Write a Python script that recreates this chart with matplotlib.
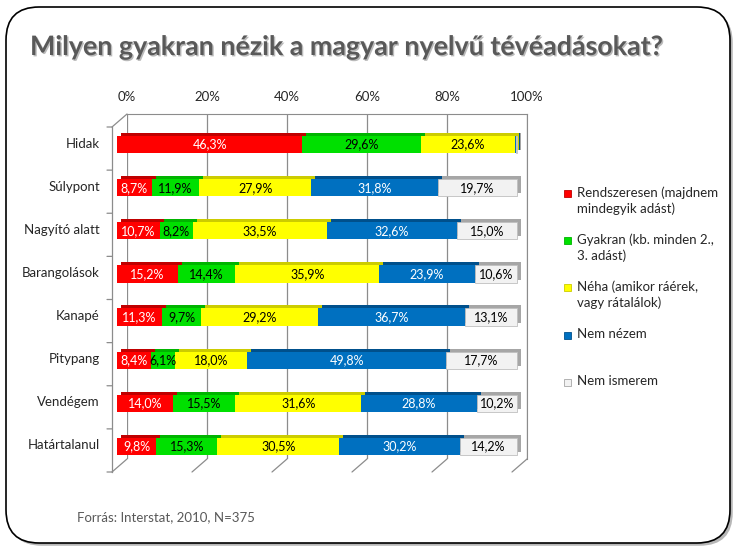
import matplotlib
matplotlib.use("Agg")
import matplotlib.pyplot as plt
import matplotlib.patheffects as pe
from matplotlib.patches import FancyBboxPatch, Rectangle
from matplotlib.transforms import offset_copy
import numpy as np

plt.rcParams['font.family'] = ['Lato', 'DejaVu Sans']

# adatok
kategoriak = ["Hidak", "Súlypont", "Nagyító alatt", "Barangolások", "Kanapé",
              "Pitypang", "Vendégem", "Határtalanul"]
rendszeresen = [46.3, 8.7, 10.7, 15.2, 11.3, 8.4, 14.0, 9.8]
gyakran = [29.6, 11.9, 8.2, 14.4, 9.7, 6.1, 15.5, 15.3]
neha = [23.6, 27.9, 33.5, 35.9, 29.2, 18.0, 31.6, 30.5]
nem_nezem = [0.3, 31.8, 32.6, 23.9, 36.7, 49.8, 28.8, 30.2]
nem_ismerem = [0.2, 19.7, 15.0, 10.6, 13.1, 17.7, 10.2, 14.2]
sorozat_nevek = ["Rendszeresen (majdnem\nmindegyik adást)",
                 "Gyakran (kb. minden 2.,\n3. adást)",
                 "Néha (amikor ráérek,\nvagy rátalálok)",
                 "Nem nézem",
                 "Nem ismerem"]
x_ticks = [0, 20, 40, 60, 80, 100]

szinek = ["#FF0000", "#00E000", "#FFFF00", "#0070C0", "#F2F2F2"]
sotet = ["#C00000", "#00B400", "#CCCC00", "#00508C", "#A6A6A6"]
felirat_szin = ["white", "black", "black", "white", "black"]

W, H = 736, 549
fig = plt.figure(figsize=(W / 100, H / 100), dpi=100)

# keret
keret = FancyBboxPatch((6 / W, 6 / H), 724 / W, 536 / H,
                       boxstyle="round,pad=0,rounding_size=0.045",
                       transform=fig.transFigure, fc="white", ec="black", lw=1.2,
                       mutation_aspect=W / H, zorder=-10,
                       path_effects=[pe.SimplePatchShadow(offset=(2, -2), alpha=0.4), pe.Normal()])
fig.patches.append(keret)

fig.text(30 / W, 1 - 47 / H, "Milyen gyakran nézik a magyar nyelvű tévéadásokat?",
         fontsize=19.3, fontweight="bold", color="#595959", va="center", ha="left",
         path_effects=[pe.withSimplePatchShadow(offset=(1, -1), alpha=0.3)])

# tengely: hátsó fal
bal, jobb, felso, also = 127, 527, 114, 459
ax = fig.add_axes([bal / W, 1 - also / H, (jobb - bal) / W, (also - felso) / H])
ax.set_xlim(0, 100)
ax.set_ylim(len(kategoriak) - 0.5, -0.5)
ax.patch.set_alpha(0)
for s in ["left", "bottom"]:
    ax.spines[s].set_visible(False)
for s in ["top", "right"]:
    ax.spines[s].set_color("#8C8C8C")
ax.xaxis.tick_top()
ax.set_xticks(x_ticks)
ax.set_xticklabels([f"{t}%" for t in x_ticks], fontsize=9.5, color="#262626")
ax.tick_params(axis="x", length=0, pad=8)
ax.set_yticks([])
for t in x_ticks:
    ax.axvline(t, color="#8C8C8C", lw=0.9, zorder=0)

# elülső sík (3D hatás)
front = offset_copy(ax.transData, fig=fig, x=-15, y=-13, units="dots")
ymin, ymax = -0.5, len(kategoriak) - 0.5
ax.plot([0, 0], [ymin, ymax], color="#8C8C8C", lw=0.9, transform=front, clip_on=False)
tick_tr = offset_copy(ax.transData, fig=fig, x=-20, y=-13, units="dots")
for b in np.arange(ymin, ymax + 0.01, 1.0):
    ax.annotate("", xy=(0, b), xycoords=front, xytext=(0, b), textcoords=tick_tr,
                arrowprops=dict(arrowstyle="-", color="#8C8C8C", lw=0.9, shrinkA=0, shrinkB=0))
ax.annotate("", xy=(0, ymin), xycoords="data", xytext=(0, ymin), textcoords=front,
            arrowprops=dict(arrowstyle="-", color="#8C8C8C", lw=0.9, shrinkA=0, shrinkB=0))
for t in x_ticks:
    ax.annotate("", xy=(t, ymax), xycoords="data", xytext=(t, ymax), textcoords=front,
                arrowprops=dict(arrowstyle="-", color="#8C8C8C", lw=0.9, shrinkA=0, shrinkB=0))

# oszlopok
bar_tr = offset_copy(ax.transData, fig=fig, x=-10, y=-9, units="dots")
mely_tr = offset_copy(ax.transData, fig=fig, x=-6, y=-6, units="dots")
sorozatok = [rendszeresen, gyakran, neha, nem_nezem, nem_ismerem]
y = np.arange(len(kategoriak))
bh = 0.40
bal_old = np.zeros(len(kategoriak))
for i, ertek in enumerate(sorozatok):
    ertek = np.array(ertek)
    ax.barh(y, ertek, left=bal_old, height=bh, color=sotet[i], transform=mely_tr,
            zorder=2, clip_on=False, lw=0)
    bal_old += ertek
bal_old = np.zeros(len(kategoriak))
for i, ertek in enumerate(sorozatok):
    ertek = np.array(ertek)
    ax.barh(y, ertek, left=bal_old, height=bh, color=szinek[i], transform=bar_tr,
            zorder=3, clip_on=False, lw=0.6 if i == 4 else 0,
            edgecolor="#BFBFBF" if i == 4 else szinek[i])
    for j, v in enumerate(ertek):
        if v >= 1:
            ax.text(bal_old[j] + v / 2, y[j], f"{v:.1f}%".replace(".", ","),
                    transform=bar_tr, ha="center", va="center", fontsize=9,
                    color=felirat_szin[i], zorder=4)
    bal_old += ertek

# kategóriacímkék
cimke_tr = offset_copy(ax.transData, fig=fig, x=-27, y=-8, units="dots")
for j, k in enumerate(kategoriak):
    ax.text(0, y[j], k, transform=cimke_tr, ha="right", va="center", fontsize=9.5,
            color="#262626")

# jelmagyarázat
leg_y = [193, 240, 287, 335, 382]
for i, nev in enumerate(sorozat_nevek):
    fig.patches.append(Rectangle((564 / W, 1 - (leg_y[i] + 4) / H), 7 / W, 7 / H,
                                 transform=fig.transFigure, fc=szinek[i],
                                 ec=sotet[i], lw=0.6))
    fig.text(577 / W, 1 - (leg_y[i] - 7) / H, nev, fontsize=9.5, color="#262626",
             va="top", ha="left", linespacing=1.35)

fig.text(77 / W, 1 - 517 / H, "Forrás: Interstat, 2010, N=375", fontsize=9.5,
         color="#595959", va="center", ha="left")

fig.savefig("out.png", dpi=100)
